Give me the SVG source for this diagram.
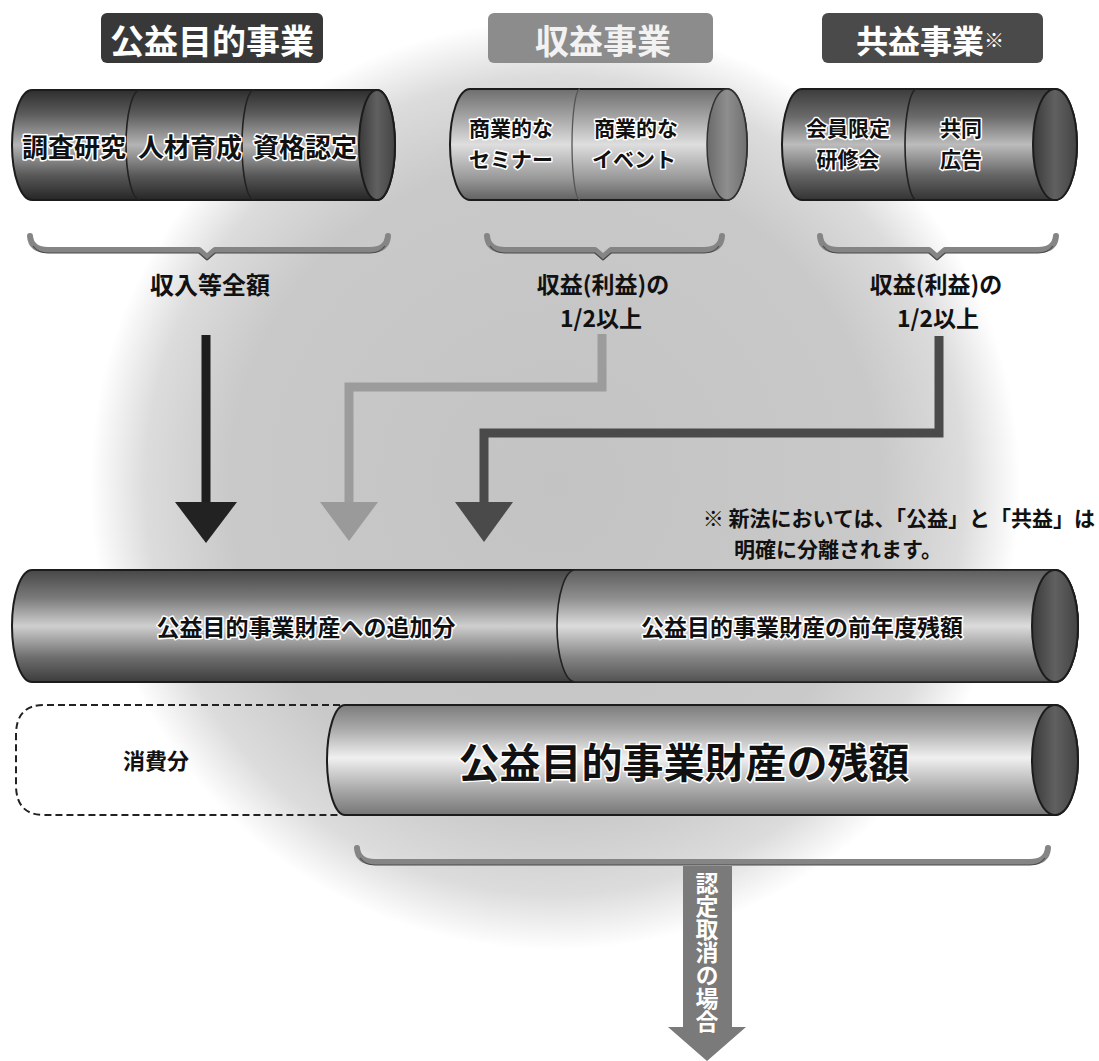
<svg xmlns="http://www.w3.org/2000/svg" width="1099" height="1061" viewBox="0 0 1099 1061">
<style>
.t{font-family:"Noto Sans CJK JP","Noto Sans CJK SC",sans-serif;font-weight:700;}
.halo{stroke:#fff;stroke-width:3;paint-order:stroke;stroke-linejoin:round;}
.blk{fill:#111;}
.wht{fill:#fff;}
.edge{stroke:#1c1c1c;stroke-width:2;}
.div{fill:none;stroke:#222;stroke-width:1.6;}
.brace{fill:none;stroke:#858585;stroke-width:6;stroke-linecap:round;stroke-linejoin:round;}
.braceD{fill:none;stroke:#4a4a4a;stroke-width:1.2;}
</style>
<defs>
<radialGradient id="gBg" cx="555" cy="485" r="465" gradientUnits="userSpaceOnUse">
<stop offset="0" stop-color="#c3c3c3"/>
<stop offset="0.7" stop-color="#c9c9c9"/>
<stop offset="0.88" stop-color="#dcdcdc"/>
<stop offset="1" stop-color="#ffffff"/>
</radialGradient>
<linearGradient id="gDark" x1="0" y1="0" x2="0" y2="1">
<stop offset="0" stop-color="#2e2e2e"/>
<stop offset="0.22" stop-color="#5c5c5c"/>
<stop offset="0.5" stop-color="#b4b4b4"/>
<stop offset="0.78" stop-color="#575757"/>
<stop offset="1" stop-color="#262626"/>
</linearGradient>
<linearGradient id="gMid" x1="0" y1="0" x2="0" y2="1">
<stop offset="0" stop-color="#3c3c3c"/>
<stop offset="0.25" stop-color="#6a6a6a"/>
<stop offset="0.5" stop-color="#bcbcbc"/>
<stop offset="0.78" stop-color="#646464"/>
<stop offset="1" stop-color="#343434"/>
</linearGradient>
<linearGradient id="gLight" x1="0" y1="0" x2="0" y2="1">
<stop offset="0" stop-color="#6e6e6e"/>
<stop offset="0.25" stop-color="#a4a4a4"/>
<stop offset="0.5" stop-color="#dedede"/>
<stop offset="0.8" stop-color="#9a9a9a"/>
<stop offset="1" stop-color="#626262"/>
</linearGradient>
<linearGradient id="gR2L" x1="0" y1="0" x2="0" y2="1">
<stop offset="0" stop-color="#474747"/>
<stop offset="0.25" stop-color="#7a7a7a"/>
<stop offset="0.5" stop-color="#cfcfcf"/>
<stop offset="0.78" stop-color="#6e6e6e"/>
<stop offset="1" stop-color="#3c3c3c"/>
</linearGradient>
<linearGradient id="gR2R" x1="0" y1="0" x2="0" y2="1">
<stop offset="0" stop-color="#5e5e5e"/>
<stop offset="0.25" stop-color="#8e8e8e"/>
<stop offset="0.5" stop-color="#dcdcdc"/>
<stop offset="0.78" stop-color="#858585"/>
<stop offset="1" stop-color="#525252"/>
</linearGradient>
<linearGradient id="gR3" x1="0" y1="0" x2="0" y2="1">
<stop offset="0" stop-color="#7c7c7c"/>
<stop offset="0.22" stop-color="#aaaaaa"/>
<stop offset="0.48" stop-color="#f0f0f0"/>
<stop offset="0.8" stop-color="#a2a2a2"/>
<stop offset="1" stop-color="#767676"/>
</linearGradient>
<linearGradient id="gCap" x1="0" y1="0" x2="1" y2="0">
<stop offset="0" stop-color="#3a3a3a"/>
<stop offset="0.5" stop-color="#606060"/>
<stop offset="1" stop-color="#444"/>
</linearGradient>
<linearGradient id="gCapL" x1="0" y1="0" x2="1" y2="0">
<stop offset="0" stop-color="#6a6a6a"/>
<stop offset="0.5" stop-color="#8e8e8e"/>
<stop offset="1" stop-color="#707070"/>
</linearGradient>
</defs>

<g id="background">
<rect width="1099" height="1061" fill="#fff"/>
<circle cx="555" cy="485" r="465" fill="url(#gBg)"/>
</g>

<g id="header-koueki">
<rect x="101" y="13" width="222" height="50" rx="6" fill="#383838"/>
<text class="t wht" x="212" y="39" font-size="34" text-anchor="middle" dominant-baseline="central">公益目的事業</text>
</g>
<g id="header-shueki">
<rect x="488" y="13" width="225" height="50" rx="6" fill="#8c8c8c"/>
<text class="t" fill="#f2f2f2" x="603" y="39" font-size="34" text-anchor="middle" dominant-baseline="central">収益事業</text>
</g>
<g id="header-kyoueki">
<rect x="822" y="13" width="221" height="50" rx="6" fill="#4a4a4a"/>
<text class="t wht" x="930" y="39" font-size="32" text-anchor="middle" dominant-baseline="central">共益事業<tspan font-size="20">※</tspan></text>
</g>

<g id="cyl-koueki">
<path class="edge" d="M32,90 H377 A18,55 0 0 1 377,200 H32 A20,55 0 0 1 32,90 Z" fill="url(#gDark)"/>
<ellipse cx="377" cy="145" rx="18" ry="55" fill="url(#gCap)" class="edge"/>
<path class="div" d="M140,90 A14,55 0 0 0 140,200"/>
<path class="div" d="M254,90 A12,55 0 0 0 254,200"/>
<text class="t blk halo" x="74" y="145" font-size="26" text-anchor="middle" dominant-baseline="central">調査研究</text>
<text class="t blk halo" x="190" y="145" font-size="26" text-anchor="middle" dominant-baseline="central">人材育成</text>
<text class="t blk halo" x="305" y="145" font-size="26" text-anchor="middle" dominant-baseline="central">資格認定</text>
</g>

<g id="cyl-shueki">
<path class="edge" d="M470,89 H727 A20,55.5 0 0 1 727,200 H470 A20,55.5 0 0 1 470,89 Z" fill="url(#gLight)"/>
<ellipse cx="727" cy="144.5" rx="20" ry="55.5" fill="url(#gCapL)" stroke="#333" stroke-width="1.5"/>
<path d="M580,89 A8,55.5 0 0 0 580,200" fill="none" stroke="#555" stroke-width="1.3"/>
<text class="t blk halo" font-size="21" text-anchor="middle"><tspan x="511" y="136">商業的な</tspan><tspan x="511" y="167">セミナー</tspan></text>
<text class="t blk halo" font-size="21" text-anchor="middle"><tspan x="636" y="136">商業的な</tspan><tspan x="634" y="167">イベント</tspan></text>
</g>

<g id="cyl-kyoueki">
<path class="edge" d="M802,89 H1055 A22,55.5 0 0 1 1055,200 H802 A20,55.5 0 0 1 802,89 Z" fill="url(#gMid)"/>
<ellipse cx="1055" cy="144.5" rx="22" ry="55.5" fill="url(#gCap)" class="edge"/>
<path class="div" d="M917,89 A12,55.5 0 0 0 917,200"/>
<text class="t blk halo" font-size="21" text-anchor="middle"><tspan x="848" y="136">会員限定</tspan><tspan x="848" y="167">研修会</tspan></text>
<text class="t blk halo" font-size="21" text-anchor="middle"><tspan x="961" y="136">共同</tspan><tspan x="961" y="167">広告</tspan></text>
</g>

<g id="brace-koueki">
<path class="brace" d="M30,236 Q31,250 48,250 H199 L207,257 L215,250 H370 Q387,250 388,236"/>
<path class="braceD" d="M33,246 Q38,253 48,253 H199 L207,260 L215,253 H370 Q380,253 385,246"/>
<text class="t blk" x="210" y="283" font-size="24" text-anchor="middle" dominant-baseline="central">収入等全額</text>
</g>
<g id="brace-shueki">
<path class="brace" d="M487,236 Q488,250 505,250 H595 L603,257 L611,250 H704 Q721,250 722,236"/>
<path class="braceD" d="M490,246 Q495,253 505,253 H595 L603,260 L611,253 H704 Q714,253 719,246"/>
<text class="t blk" font-size="23" text-anchor="middle"><tspan x="603" y="293">収益(利益)の</tspan><tspan x="601" y="327">1/2以上</tspan></text>
</g>
<g id="brace-kyoueki">
<path class="brace" d="M820,236 Q821,250 838,250 H929 L937,257 L945,250 H1038 Q1055,250 1056,236"/>
<path class="braceD" d="M823,246 Q828,253 838,253 H929 L937,260 L945,253 H1038 Q1048,253 1053,246"/>
<text class="t blk" font-size="23" text-anchor="middle"><tspan x="936" y="293">収益(利益)の</tspan><tspan x="938" y="327">1/2以上</tspan></text>
</g>

<g id="connectors">
<path d="M206,335 V506" fill="none" stroke="#1e1e1e" stroke-width="9"/>
<polygon points="175,502 237,502 206,543" fill="#222"/>
<path d="M602,334 V387 H349 V506" fill="none" stroke="#9c9c9c" stroke-width="9" stroke-linejoin="miter"/>
<polygon points="320,502 378,502 349,541" fill="#9a9a9a"/>
<path d="M939,336 V433 H484 V506" fill="none" stroke="#4a4a4a" stroke-width="9" stroke-linejoin="miter"/>
<polygon points="455,502 513,502 484,542" fill="#4a4a4a"/>
</g>

<g id="note">
<text class="t blk" font-size="21"><tspan x="1095" y="526" text-anchor="end">※ 新法においては、「公益」と「共益」は</tspan><tspan x="734" y="557">明確に分離されます。</tspan></text>
</g>

<g id="cyl-property">
<path class="edge" d="M32,570 H1055 A23,56 0 0 1 1055,682 H32 A20,56 0 0 1 32,570 Z" fill="url(#gR2L)"/>
<path d="M575,570 H1055 A23,56 0 0 1 1055,682 H575 A18,56 0 0 1 575,570 Z" fill="url(#gR2R)" stroke="#222" stroke-width="1.6"/>
<ellipse cx="1055" cy="626" rx="23" ry="56" fill="url(#gCap)" class="edge"/>
<text class="t blk halo" x="306" y="626" font-size="23" text-anchor="middle" dominant-baseline="central">公益目的事業財産への追加分</text>
<text class="t blk halo" x="802" y="626" font-size="23" text-anchor="middle" dominant-baseline="central">公益目的事業財産の前年度残額</text>
</g>

<g id="consumed">
<path d="M340,705 H44 Q16,705 16,735 V785 Q16,815 44,815 H340" fill="none" stroke="#222" stroke-width="2" stroke-dasharray="7,4"/>
<text class="t blk" x="156" y="759" font-size="22" text-anchor="middle" dominant-baseline="central">消費分</text>
</g>

<g id="cyl-remaining">
<path class="edge" d="M345,705 H1055 A23,55 0 0 1 1055,815 H345 A18,55 0 0 1 345,705 Z" fill="url(#gR3)"/>
<ellipse cx="1055" cy="760" rx="23" ry="55" fill="url(#gCap)" class="edge"/>
<text class="t blk halo" x="684" y="760" font-size="41" text-anchor="middle" dominant-baseline="central">公益目的事業財産の残額</text>
</g>

<g id="brace-bottom">
<path class="brace" d="M357,848 Q358,862 375,862 H1030 Q1047,862 1048,848"/>
<path class="braceD" d="M360,858 Q365,865 375,865 H1030 Q1040,865 1045,858"/>
</g>

<g id="arrow-revoke">
<path d="M683,866 H732 V1027 H746 L707,1061 L668,1027 H683 Z" fill="#7a7a7a"/>
<text class="t wht" x="707" y="872" font-size="23" style="writing-mode:vertical-rl;text-orientation:upright" text-anchor="start">認定取消の場合</text>
</g>
</svg>
